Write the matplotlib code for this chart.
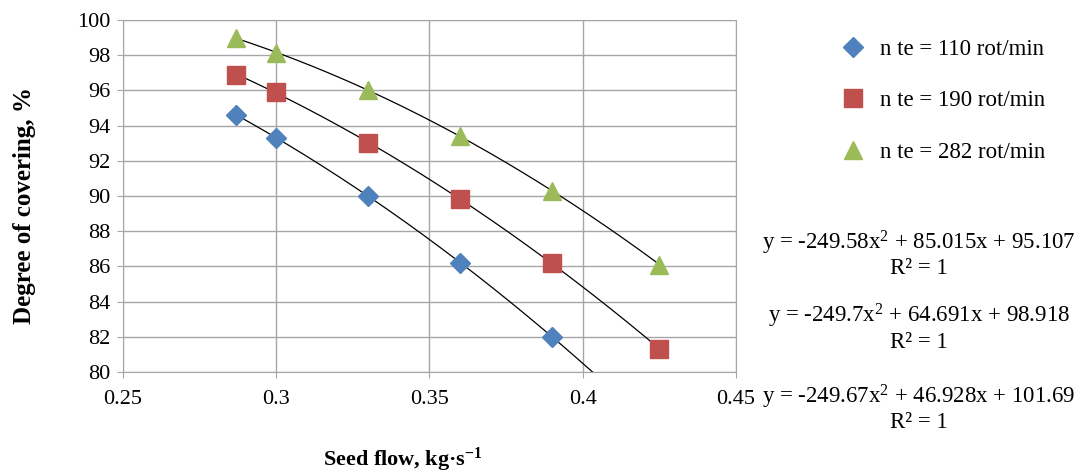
import numpy as np
import matplotlib.pyplot as plt

plt.rcParams['font.family'] = ['Liberation Serif', 'DejaVu Serif']
plt.rcParams['mathtext.fontset'] = 'custom'
plt.rcParams['mathtext.rm'] = 'Liberation Serif'
plt.rcParams['mathtext.it'] = 'Liberation Serif:italic'
plt.rcParams['mathtext.bf'] = 'Liberation Serif:bold'

# Data
x_110 = [0.287, 0.300, 0.330, 0.360, 0.390]
y_110 = [94.6, 93.3, 90.0, 86.2, 82.0]
x_190 = [0.287, 0.300, 0.330, 0.360, 0.390, 0.425]
y_190 = [96.9, 95.9, 93.0, 89.8, 86.2, 81.3]
x_282 = [0.287, 0.300, 0.330, 0.360, 0.390, 0.425]
y_282 = [99.0, 98.1, 96.0, 93.4, 90.3, 86.1]

labels = ["n te = 110 rot/min", "n te = 190 rot/min", "n te = 282 rot/min"]
equations = [
    "y = -249.58x$^{2}$ + 85.015x + 95.107",
    "y = -249.7x$^{2}$ + 64.691x + 98.918",
    "y = -249.67x$^{2}$ + 46.928x + 101.69",
]

series = [(x_110, y_110, "#4F81BD", "D", 10),
          (x_190, y_190, "#C0504D", "s", 12.5),
          (x_282, y_282, "#9BBB59", "^", 13)]

fig = plt.figure(figsize=(10.88, 4.75), dpi=100)
ax = fig.add_axes([0.113, 0.217, 0.5635, 0.741])

x_lo = min(x_110 + x_190 + x_282)
x_hi = max(x_110 + x_190 + x_282)
xs = np.linspace(x_lo, x_hi, 200)

handles = []
for (xd, yd, col, mk, ms), lab in zip(series, labels):
    coef = np.polyfit(xd, yd, 2)
    ax.plot(xs, np.polyval(coef, xs), color="black", lw=0.9, zorder=2)
    h, = ax.plot(xd, yd, linestyle="none", marker=mk, color=col,
                 markersize=ms, markeredgecolor=col, zorder=3, label=lab)
    handles.append(h)

ax.set_xlim(0.25, 0.45)
ax.set_ylim(80, 100)
ax.set_xticks([0.25, 0.3, 0.35, 0.4, 0.45])
ax.set_xticklabels(["0.25", "0.3", "0.35", "0.4", "0.45"])
ax.set_yticks(np.arange(80, 101, 2))
ax.grid(True, color="#A6A6A6", lw=1)
ax.set_axisbelow(True)
for s in ax.spines.values():
    s.set_color("#A6A6A6")
ax.tick_params(labelsize=16, color="#A6A6A6", length=4)
ax.tick_params(axis="x", pad=9)
ax.tick_params(axis="y", pad=5)
ax.set_ylabel("Degree of covering, %", fontsize=18, fontweight="bold")
ax.yaxis.set_label_coords(-0.141, 0.474)
fig.text(403 / 1088, 1 - 460 / 475, "Seed flow, kg·s$^{\\mathbf{-1}}$", fontsize=16,
         fontweight="bold", ha="center", va="center")

fig.legend(handles=handles, loc="upper left", bbox_to_anchor=(0.752, 0.962),
           frameon=False, fontsize=16.5, labelspacing=1.33, handletextpad=0.6,
           handlelength=1.2)

eq_y = [243, 316, 397]
for eq, yp in zip(equations, eq_y):
    fig.text(919 / 1088, 1 - yp / 475, eq, fontsize=16.5, ha="center", va="center")
    fig.text(919 / 1088, 1 - (yp + 26) / 475, "R² = 1", fontsize=16.5,
             ha="center", va="center")

fig.savefig("out.png", dpi=100)
